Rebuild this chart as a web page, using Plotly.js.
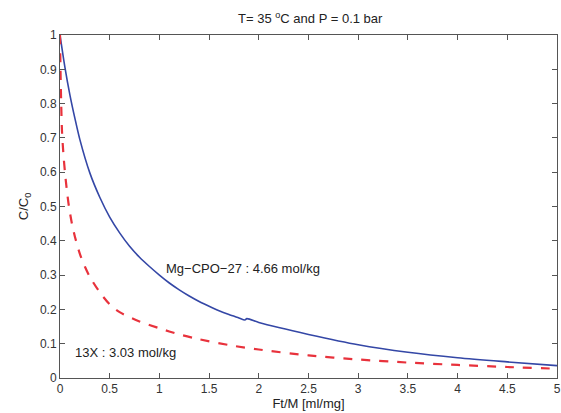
<!DOCTYPE html>
<html>
<head>
<meta charset="utf-8">
<script src="https://cdn.plot.ly/plotly-3.0.1.min.js"></script>
<style>html,body{margin:0;padding:0;background:#fff}#chart{width:561px;height:413px}</style>
</head>
<body>
<div id="chart"></div>
<script>
// Mg-CPO-27 breakthrough curve (blue, solid)
const mgX = [0, 0.05, 0.1, 0.15, 0.2, 0.3, 0.4, 0.5, 0.6, 0.7, 0.8, 0.9, 1.0, 1.1, 1.2, 1.3, 1.4, 1.5, 1.6, 1.7, 1.8, 1.86, 1.88, 2.0, 2.2, 2.5, 3.0, 3.5, 4.0, 4.5, 5.0];
const mgY = [1, 0.905, 0.825, 0.757, 0.695, 0.598, 0.527, 0.469, 0.423, 0.384, 0.352, 0.325, 0.300, 0.277, 0.257, 0.239, 0.223, 0.209, 0.196, 0.185, 0.175, 0.169, 0.173, 0.162, 0.147, 0.127, 0.097, 0.075, 0.059, 0.047, 0.036];
// 13X breakthrough curve (red, dashed)
const zX = [0, 0.005, 0.012, 0.02, 0.035, 0.05, 0.07, 0.09, 0.12, 0.15, 0.2, 0.25, 0.3, 0.4, 0.5, 0.6, 0.8, 1.0, 1.2, 1.4, 1.7, 2.0, 2.5, 3.0, 3.5, 4.0, 4.5, 5.0];
const zY = [1, 0.9, 0.8, 0.72, 0.65, 0.6, 0.545, 0.5, 0.45, 0.412, 0.362, 0.325, 0.295, 0.25, 0.215, 0.192, 0.165, 0.145, 0.127, 0.113, 0.096, 0.083, 0.066, 0.054, 0.045, 0.038, 0.032, 0.027];

const xTicks = [0, 0.5, 1, 1.5, 2, 2.5, 3, 3.5, 4, 4.5, 5];
const xTickText = ['0', '0.5', '1', '1.5', '2', '2.5', '3', '3.5', '4', '4.5', '5'];
const yTicks = [0, 0.1, 0.2, 0.3, 0.4, 0.5, 0.6, 0.7, 0.8, 0.9, 1];
const yTickText = ['0', '0.1', '0.2', '0.3', '0.4', '0.5', '0.6', '0.7', '0.8', '0.9', '1'];

const font = 'Liberation Sans, Arial, sans-serif';
const traces = [
  {x: mgX, y: mgY, mode: 'lines', line: {color: '#3447a6', width: 1.6, shape: 'spline', smoothing: 0.8}, showlegend: false, hoverinfo: 'skip'},
  {x: zX, y: zY, mode: 'lines', line: {color: '#e8323c', width: 2.2, dash: 'dash', shape: 'spline', smoothing: 0.8}, showlegend: false, hoverinfo: 'skip'}
];
const axisCommon = {
  showline: true, linecolor: '#555', linewidth: 1, mirror: 'ticks',
  ticks: 'inside', ticklen: 5, tickcolor: '#555', showgrid: false, zeroline: false,
  ticklabeloverflow: 'allow',
  tickfont: {family: font, size: 12, color: '#333'}
};
const layout = {
  width: 561, height: 413,
  margin: {l: 60, r: 4, t: 35, b: 35},
  paper_bgcolor: '#fff', plot_bgcolor: '#fff',
  title: {text: 'T= 35 <sup>o</sup>C and P = 0.1 bar', font: {family: font, size: 13, color: '#222'}, x: 0.553, xanchor: 'center', y: 0.955, yanchor: 'middle'},
  xaxis: Object.assign({}, axisCommon, {range: [0, 5], tickvals: xTicks, ticktext: xTickText,
    title: {text: 'Ft/M [ml/mg]', font: {family: font, size: 13, color: '#222'}, standoff: 2}}),
  yaxis: Object.assign({}, axisCommon, {range: [0, 1], tickvals: yTicks, ticktext: yTickText,
    title: {text: 'C/C<sub>0</sub>', font: {family: font, size: 13, color: '#222'}, standoff: 8}}),
  annotations: [
    {x: 1.05, y: 0.32, xref: 'x', yref: 'y', text: 'Mg\u2212CPO\u221227 : 4.66 mol/kg', showarrow: false, xanchor: 'left', yanchor: 'middle', font: {family: font, size: 13, color: '#222'}},
    {x: 0.13, y: 0.073, xref: 'x', yref: 'y', text: '13X : 3.03 mol/kg', showarrow: false, xanchor: 'left', yanchor: 'middle', font: {family: font, size: 13, color: '#222'}}
  ]
};
Plotly.newPlot('chart', traces, layout, {displayModeBar: false, staticPlot: true});
</script>
</body>
</html>
